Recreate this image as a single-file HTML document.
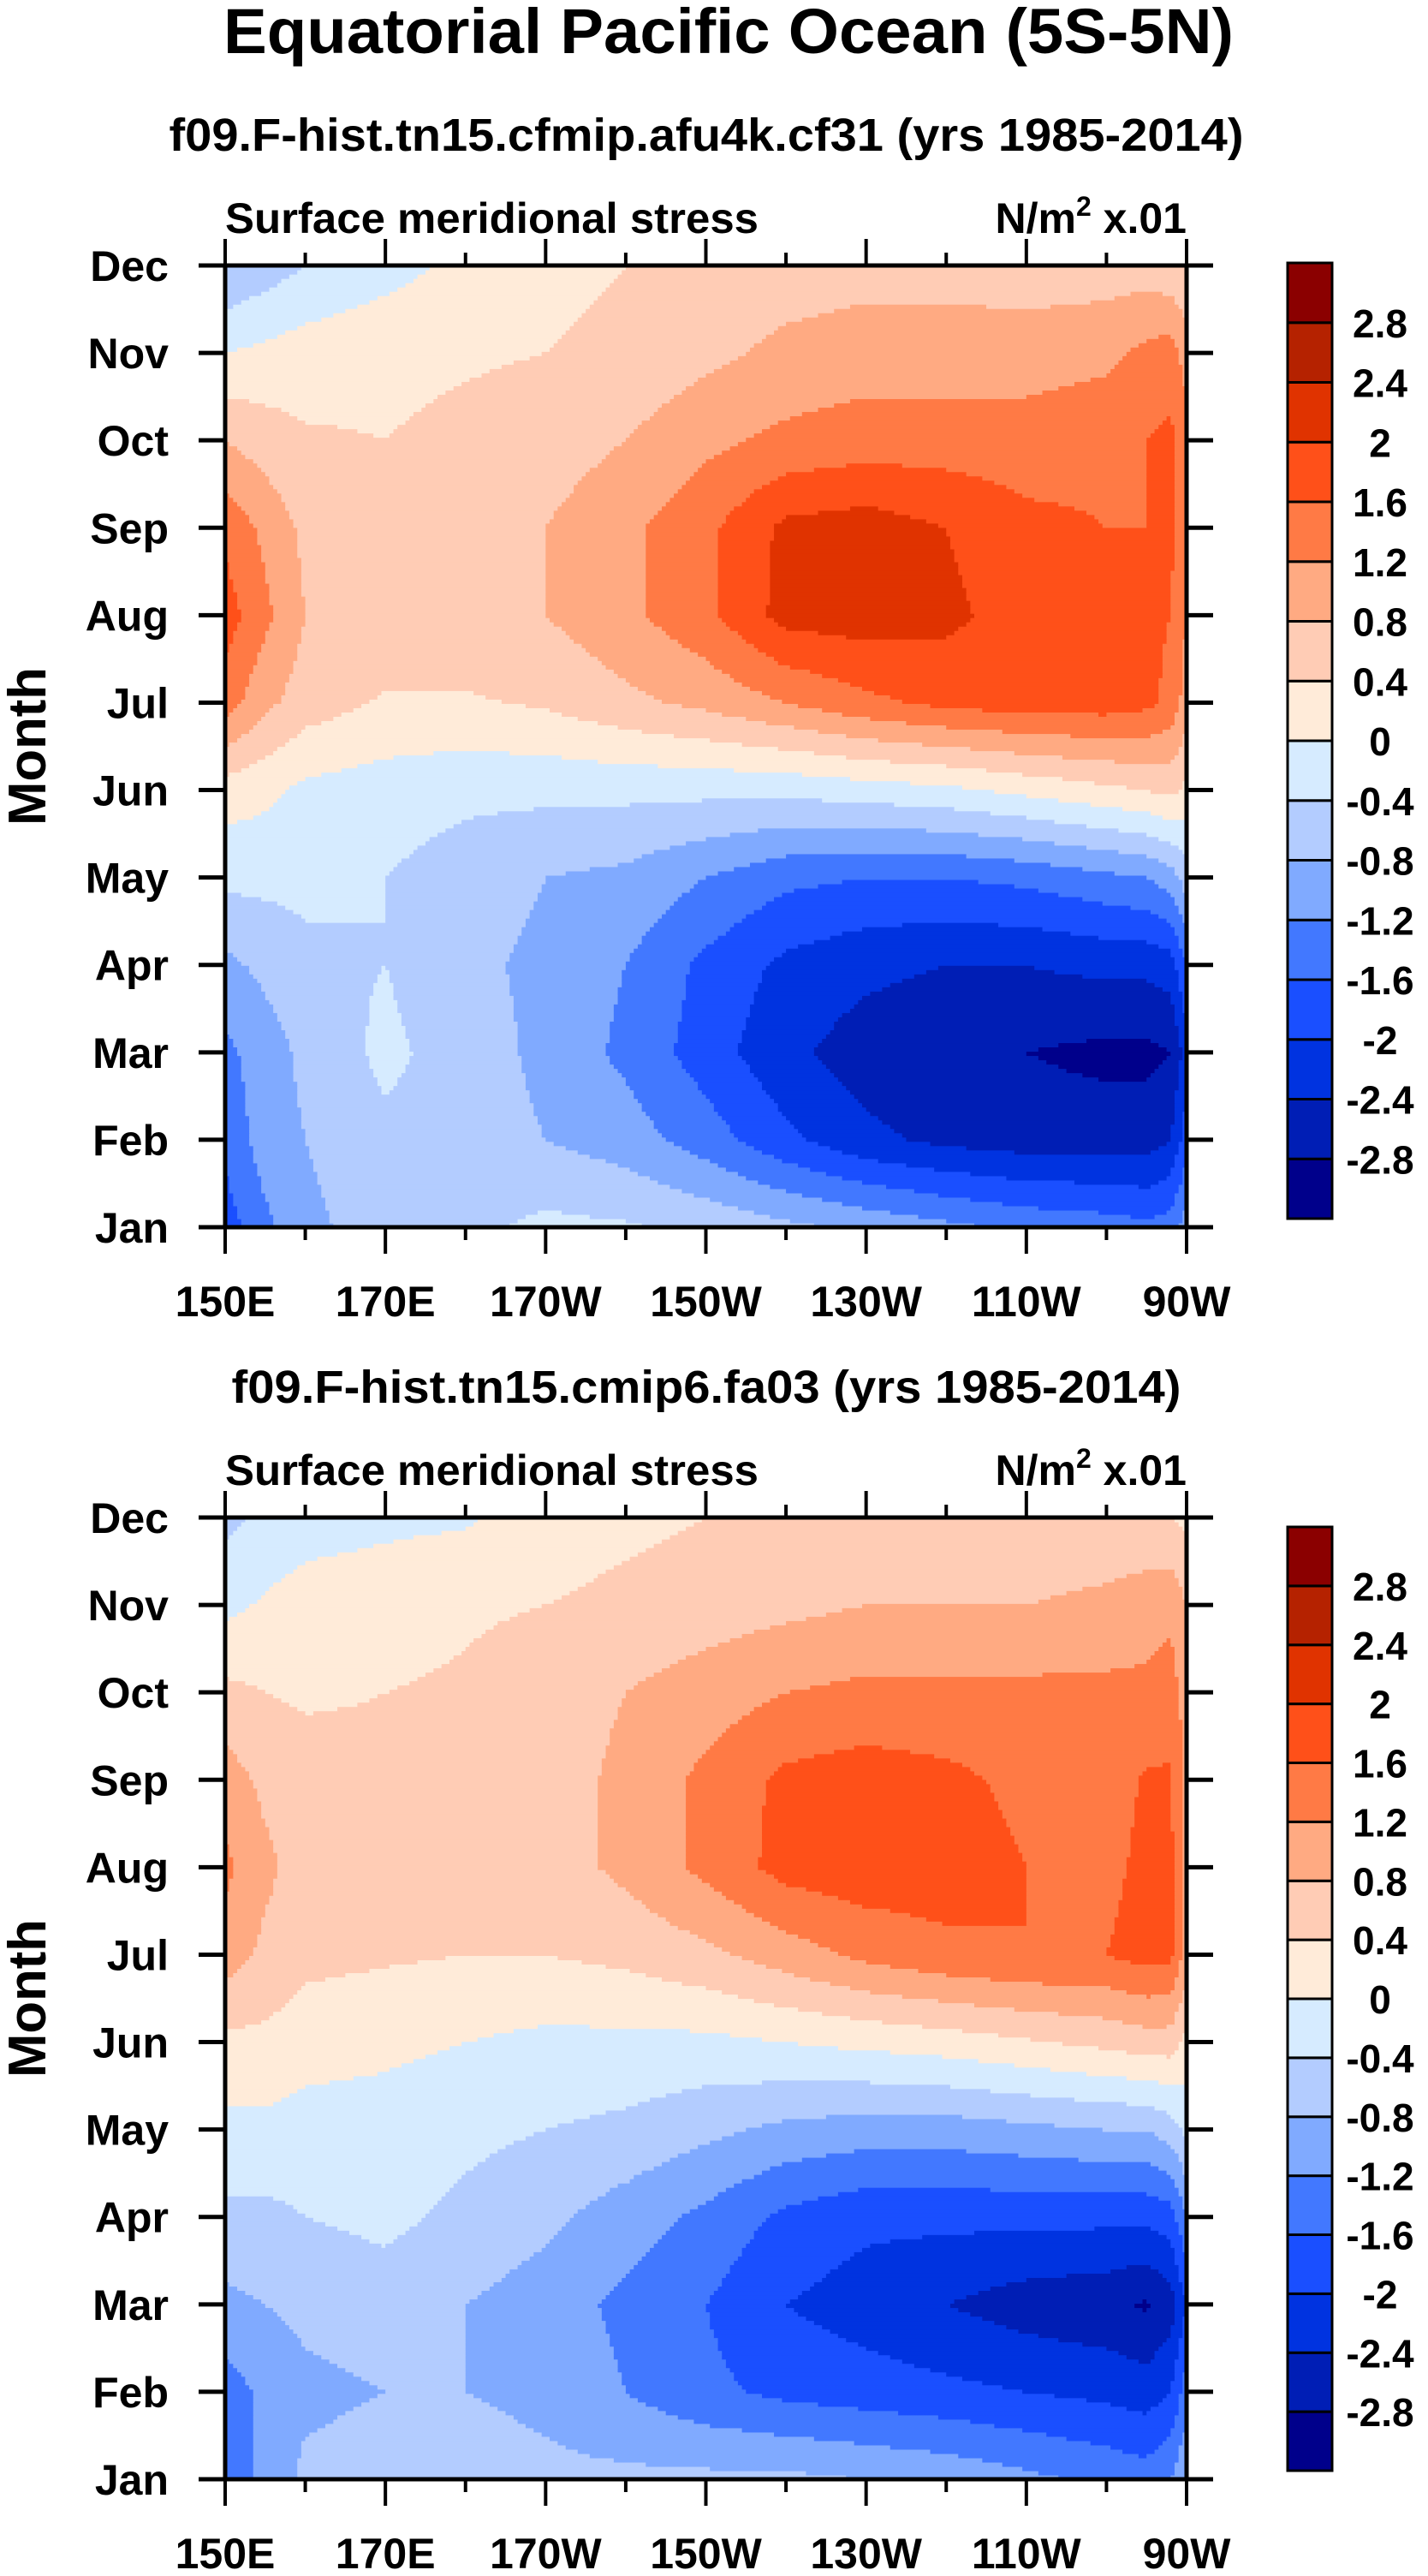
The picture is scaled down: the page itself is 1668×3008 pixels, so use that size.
<!DOCTYPE html>
<html><head><meta charset="utf-8"><style>
html,body{margin:0;padding:0;background:#fff}
svg{display:block}
text{font-family:"Liberation Sans",Arial,sans-serif;font-weight:bold;fill:#000}
</style></head><body>
<svg id="fig" width="1668" height="3008" viewBox="0 0 1668 3008" xmlns="http://www.w3.org/2000/svg">
<text x="851" y="62" font-size="74" text-anchor="middle" textLength="1180" lengthAdjust="spacingAndGlyphs">Equatorial Pacific Ocean (5S-5N)</text>
<g id="p1"></g>
<g id="p2"></g>
</svg>
<script>
// ---- data ----
const lons = [150,155,160,170,180,190,200,210,220,230,240,250,260,265,268,270];
const months = ['Jan','Feb','Mar','Apr','May','Jun','Jul','Aug','Sep','Oct','Nov','Dec'];
const lonTicks = [150,170,190,210,230,250,270];
const lonTickLabels = ['150E','170E','170W','150W','130W','110W','90W'];
const levels = [-2.8,-2.4,-2,-1.6,-1.2,-0.8,-0.4,0,0.4,0.8,1.2,1.6,2,2.4,2.8];
const levelLabels = ['-2.8','-2.4','-2','-1.6','-1.2','-0.8','-0.4','0','0.4','0.8','1.2','1.6','2','2.4','2.8'];
const colors = ['#00008B','#001EB5','#0033E0','#1A4FFF','#4278FF','#80AAFF','#B3CCFF','#D6EBFF','#FFEBD9','#FFCCB5','#FFAA82','#FF7A45','#FF5019','#E03300','#B52200','#8B0000'];
// panel 1 (cf31) rows Jan..Dec
const cf31 = [
[-1.8,-1.3,-0.9,-0.6,-0.5,-0.3,-0.35,-0.5,-0.7,-0.9,-1.1,-1.3,-1.4,-1.5,-1.4,-1.0],
[-1.5,-1.0,-0.8,-0.5,-0.6,-0.8,-1.0,-1.4,-1.9,-2.3,-2.5,-2.6,-2.6,-2.6,-2.4,-1.8],
[-1.3,-1.0,-0.7,-0.3,-0.6,-0.9,-1.3,-1.8,-2.3,-2.6,-2.7,-2.8,-2.9,-2.9,-2.8,-2.2],
[-0.9,-0.7,-0.5,-0.4,-0.7,-0.9,-1.2,-1.7,-2.1,-2.3,-2.4,-2.4,-2.3,-2.3,-2.2,-1.6],
[-0.3,-0.3,-0.3,-0.4,-0.6,-0.8,-0.9,-1.2,-1.5,-1.6,-1.6,-1.5,-1.3,-1.2,-1.0,-0.6],
[0.2,0.1,-0.1,-0.2,-0.3,-0.3,-0.3,-0.3,-0.3,-0.2,-0.1,0.1,0.3,0.4,0.5,0.3],
[1.4,0.9,0.6,0.35,0.35,0.45,0.7,0.9,1.2,1.5,1.7,1.8,1.8,1.7,1.5,1.0],
[1.8,1.3,0.8,0.7,0.7,0.8,1.1,1.5,2.15,2.2,2.1,1.8,1.7,1.7,1.6,1.2],
[1.5,1.1,0.7,0.6,0.6,0.8,1.1,1.5,2.1,2.2,2.0,1.7,1.6,1.6,1.7,1.3],
[0.8,0.6,0.45,0.4,0.5,0.6,0.8,1.1,1.3,1.4,1.4,1.4,1.5,1.6,1.7,1.4],
[0.0,0.1,0.2,0.3,0.35,0.4,0.5,0.7,0.9,1.0,1.0,1.0,1.1,1.3,1.4,1.0],
[-0.8,-0.6,-0.4,-0.15,0.1,0.3,0.4,0.5,0.6,0.65,0.65,0.6,0.6,0.6,0.5,0.4]];
// panel 2 (fa03)
const fa03 = [
[-1.5,-1.1,-0.7,-0.6,-0.6,-0.7,-0.7,-0.7,-0.7,-0.8,-0.9,-1.1,-1.3,-1.4,-1.2,-0.8],
[-1.4,-1.1,-0.9,-0.8,-0.8,-0.9,-1.2,-1.5,-1.7,-1.8,-1.9,-2.0,-2.1,-2.2,-2.0,-1.4],
[-0.9,-0.8,-0.7,-0.6,-0.8,-1.0,-1.3,-1.6,-2.0,-2.2,-2.4,-2.6,-2.7,-2.85,-2.6,-2.0],
[-0.5,-0.5,-0.4,-0.3,-0.5,-0.7,-1.0,-1.3,-1.7,-1.9,-1.9,-1.9,-1.9,-1.9,-1.8,-1.2],
[-0.1,-0.1,-0.2,-0.2,-0.3,-0.4,-0.5,-0.7,-0.9,-1.0,-1.0,-0.9,-0.8,-0.8,-0.6,-0.3],
[0.3,0.3,0.2,0.1,0.0,-0.1,-0.1,-0.1,0.0,0.1,0.2,0.35,0.5,0.6,0.6,0.3],
[1.0,0.7,0.5,0.45,0.4,0.4,0.5,0.7,1.0,1.3,1.5,1.6,1.6,1.75,1.7,1.0],
[1.3,0.9,0.6,0.5,0.5,0.6,0.9,1.3,1.75,1.85,1.8,1.6,1.5,1.7,1.7,1.0],
[1.0,0.7,0.55,0.5,0.5,0.6,0.9,1.3,1.7,1.8,1.7,1.5,1.4,1.65,1.65,1.1],
[0.5,0.4,0.35,0.4,0.45,0.6,0.8,1.0,1.2,1.3,1.3,1.3,1.3,1.3,1.4,1.0],
[-0.1,0.05,0.2,0.25,0.35,0.4,0.5,0.6,0.7,0.8,0.8,0.8,0.9,1.0,1.1,0.8],
[-0.5,-0.3,-0.2,-0.1,-0.05,0.2,0.3,0.4,0.5,0.5,0.5,0.5,0.5,0.5,0.4,0.3]];

const NS='http://www.w3.org/2000/svg';
function mk(tag,attrs,parent){const e=document.createElementNS(NS,tag);for(const k in attrs)e.setAttribute(k,attrs[k]);parent.appendChild(e);return e;}
function colorFor(v){let i=0;while(i<levels.length&&v>=levels[i])i++;return colors[i];}
function sample(grid,lon,m){
  let i=0;while(i<lons.length-2&&lon>lons[i+1])i++;
  const tx=Math.max(0,Math.min(1,(lon-lons[i])/(lons[i+1]-lons[i])));
  let j=Math.floor(m);if(j>10)j=10;if(j<0)j=0;const ty=Math.max(0,Math.min(1,m-j));
  const a=grid[j][i]*(1-tx)+grid[j][i+1]*tx, b=grid[j+1][i]*(1-tx)+grid[j+1][i+1]*tx;
  return a*(1-ty)+b*ty;
}
function drawPanel(g,grid,cfg){
  const L=263,R=1386,T=cfg.top,B=cfg.top+1123;
  const xs=lon=>L+(lon-150)/120*(R-L);
  const ys=m=>B-m/11*(B-T);
  mk('text',{x:cfg.subX,y:T-134,'font-size':54,'text-anchor':'middle',textLength:cfg.subW,lengthAdjust:'spacingAndGlyphs',},g).textContent=cfg.title;
  mk('text',{x:L,y:T-38,'font-size':50,textLength:623,lengthAdjust:'spacingAndGlyphs',},g).textContent='Surface meridional stress';
  const u=mk('text',{x:R,y:T-38,'font-size':50,'text-anchor':'end',},g);
  u.innerHTML='N/m<tspan dy="-20" font-size="32">2</tspan><tspan dy="20"> x.01</tspan>';
  const cg=mk('g',{},g);
  const nx=240,ny=224;
  for(let r=0;r<ny;r++){
    const m0=r/ny*11,m1=(r+1)/ny*11,mc=(m0+m1)/2;
    let start=0,prev=null;
    for(let c=0;c<=nx;c++){
      let col=null;
      if(c<nx){const lon=150+(c+0.5)/nx*120;col=colorFor(sample(grid,lon,mc));}
      if(col!==prev){
        if(prev!==null){
          const x0=xs(150+start/nx*120),x1=xs(150+c/nx*120);
          const e=mk('rect',{x:x0.toFixed(2),y:ys(m1).toFixed(2),width:(x1-x0+0.6).toFixed(2),height:((B-T)/ny+0.6).toFixed(2),fill:prev},cg);
          
          
        }
        start=c;prev=col;
      }
    }
  }
  mk('rect',{x:L,y:T,width:R-L,height:B-T,fill:'none',stroke:'#000','stroke-width':5,},g);
  months.forEach((mn,k)=>{
    const y=ys(k);
    mk('line',{x1:L-31,x2:L,y1:y,y2:y,stroke:'#000','stroke-width':5},g);
    mk('line',{x1:R,x2:R+31,y1:y,y2:y,stroke:'#000','stroke-width':5},g);
    mk('text',{x:197,y:y+18,'font-size':50,'text-anchor':'end',},g).textContent=mn;
  });
  for(let lon=150;lon<=270;lon+=10){
    const x=xs(lon),maj=(lon-150)%20===0,len=maj?31:15;
    mk('line',{x1:x,x2:x,y1:T-len,y2:T,stroke:'#000','stroke-width':4},g);
    mk('line',{x1:x,x2:x,y1:B,y2:B+len,stroke:'#000','stroke-width':4},g);
  }
  lonTicks.forEach((lon,k)=>{
    mk('text',{x:xs(lon),y:B+104,'font-size':50,'text-anchor':'middle',},g).textContent=lonTickLabels[k];
  });
  const yc=(T+B)/2;
  mk('text',{x:53,y:yc,'font-size':62,'text-anchor':'middle',textLength:185,lengthAdjust:'spacingAndGlyphs',transform:`rotate(-90 53 ${yc})`,},g).textContent='Month';
  const cb=mk('g',{},g);
  const cT=cfg.cbTop,cB=cfg.cbBot,cL=1504,cW=52,h=(cB-cT)/colors.length;
  colors.forEach((c,i)=>{
    const e=mk('rect',{x:cL,y:cB-(i+1)*h,width:cW,height:h,fill:c,stroke:'#000','stroke-width':3},cb);
    
    
  });
  levelLabels.forEach((lb,i)=>{
    mk('text',{x:1612,y:cB-(i+1)*h+17,'font-size':46,'text-anchor':'middle',},cb).textContent=lb;
  });
}
drawPanel(document.getElementById('p1'),cf31,{top:310,title:'f09.F-hist.tn15.cfmip.afu4k.cf31 (yrs 1985-2014)',subX:825,subW:1255,cbTop:307,cbBot:1423});
drawPanel(document.getElementById('p2'),fa03,{top:1772,title:'f09.F-hist.tn15.cmip6.fa03 (yrs 1985-2014)',subX:825,subW:1109,cbTop:1783,cbBot:2885});
</script>
</body></html>
